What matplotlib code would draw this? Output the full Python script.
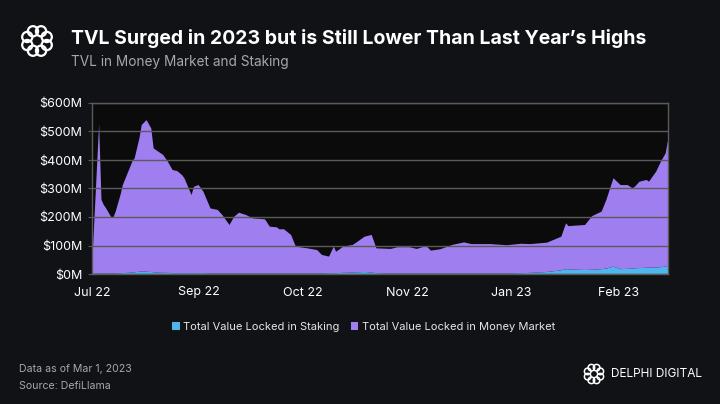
import math
import matplotlib.pyplot as plt
from matplotlib.patches import Patch, Circle

# Datos (millones USD), eje x = días desde el inicio de la serie
dias = [0, 3, 4, 5, 6, 8, 9, 10, 12, 13, 15, 17, 18, 20, 21, 23, 25, 26, 27, 30,
        32, 34, 36, 38, 39, 42, 43, 45, 47, 50, 53, 55, 58, 60, 62, 65, 68, 73, 75, 78,
        79, 81, 84, 86, 91, 95, 97, 100, 102, 103, 106, 110, 112, 115, 118, 120, 126, 129, 134, 137,
        141, 143, 147, 152, 157, 160, 168, 175, 181, 185, 192, 198, 200, 201, 208, 211, 215, 217, 220, 223,
        226, 228, 229, 231, 234, 235, 238, 240, 242, 243]

staking = [0, 2, 2, 2, 2, 2, 2, 2, 3, 3, 4, 5, 6, 8, 9, 8, 7, 6, 5, 4,
           4, 3, 3, 3, 3, 3, 3, 3, 3, 2, 2, 2, 2, 2, 2, 2, 2, 2, 2, 2,
           2, 2, 2, 2, 2, 2, 2, 3, 3, 3, 4, 5, 6, 7, 5, 3, 2, 2, 2, 2,
           2, 2, 2, 2, 2, 2, 2, 2, 3, 4, 7, 13, 17, 16, 14, 15, 17, 19, 26, 17,
           18, 19, 20, 21, 22, 22, 23, 24, 26, 29]

money_market = [20, 523, 258, 240, 228, 199, 196, 217, 274, 309, 349, 389, 400, 468, 514, 532, 504, 435, 430, 414,
                390, 362, 358, 344, 333, 274, 303, 309, 286, 228, 223, 205, 170, 199, 213, 205, 193, 190, 164, 162,
                155, 155, 135, 94, 88, 82, 65, 58, 93, 75, 92, 97, 107, 124, 132, 87, 86, 92, 92, 86,
                96, 80, 85, 100, 109, 103, 103, 99, 103, 101, 103, 118, 161, 152, 158, 188, 202, 241, 310, 295,
                294, 282, 286, 303, 308, 302, 336, 370, 397, 439]

tick_dias = [0, 45, 89, 133, 177, 222]
tick_labels = ["Jul 22", "Sep 22", "Oct 22", "Nov 22", "Jan 23", "Feb 23"]
y_ticks = [0, 100, 200, 300, 400, 500, 600]

series_names = ["Total Value Locked in Staking", "Total Value Locked in Money Market"]
colores = ["#4fb6ec", "#9f7ef0"]

fondo = "#111216"
plt.rcParams['font.family'] = ['Inter', 'DejaVu Sans']

fig = plt.figure(figsize=(7.2, 4.04), dpi=100, facecolor=fondo)
ax = fig.add_axes([92/720, 1-274/404, 576/720, 171/404])
ax.set_facecolor("#0b0b0c")

ax.stackplot(dias, staking, money_market, colors=colores, linewidth=0)

ax.set_xlim(0, 243)
ax.set_ylim(0, 600)
ax.set_yticks(y_ticks)
ax.set_yticklabels(["$%dM" % v for v in y_ticks])
ax.set_xticks(tick_dias)
ax.set_xticklabels(tick_labels)
ax.grid(axis="y", color="#5a5a5a", linewidth=1)
ax.set_axisbelow(False)
for g in ax.get_ygridlines():
    g.set_zorder(0.5)
ax.tick_params(axis="y", colors="#5a5a5a", labelcolor="white", labelsize=9, length=3, pad=4)
ax.tick_params(axis="x", labelcolor="white", labelsize=9, length=0, pad=9)
for s in ax.spines.values():
    s.set_color("#5a5a5a")
    s.set_linewidth(1)

# Títulos
fig.text(71/720, 1-38/404, "TVL Surged in 2023 but is Still Lower Than Last Year\u2019s Highs",
         color="white", fontsize=14, fontweight="bold", va="center", ha="left")
fig.text(71/720, 1-62/404, "TVL in Money Market and Staking",
         color="#a8a8a8", fontsize=9.8, va="center", ha="left")

# Leyenda
handles = [Patch(facecolor=c, edgecolor="none") for c in colores]
leg = fig.legend(handles, series_names, loc="center", bbox_to_anchor=(0.505, 1-327/404), ncol=2,
                 frameon=False, fontsize=8, handlelength=0.7, handleheight=0.7,
                 handletextpad=0.3, columnspacing=1.0)
for t in leg.get_texts():
    t.set_color("#e6e6e6")

# Pie
fig.text(19/720, 1-369/404, "Data as of Mar 1, 2023", color="#a8a8a8", fontsize=7.6, va="center")
fig.text(19/720, 1-386/404, "Source: DefiLlama", color="#a8a8a8", fontsize=7.6, va="center")
fig.text(611/720, 1-374/404, "DELPHI DIGITAL", color="white", fontsize=8.5, va="center")


# Logo: anillo de círculos
def logo(cx, cy, size, lw):
    la = fig.add_axes([(cx-size/2)/720, 1-(cy+size/2)/404, size/720, size/404])
    la.set_xlim(-1, 1)
    la.set_ylim(-1, 1)
    la.axis("off")
    for k in range(8):
        a = 2*math.pi*k/8 + math.pi/8
        la.add_patch(Circle((0.62*math.cos(a), 0.62*math.sin(a)), 0.3,
                            fill=False, edgecolor="white", linewidth=lw))


logo(37, 41, 34, 1.6)
logo(594, 374, 22, 1.1)

fig.savefig("out.png", dpi=100, facecolor=fondo)
